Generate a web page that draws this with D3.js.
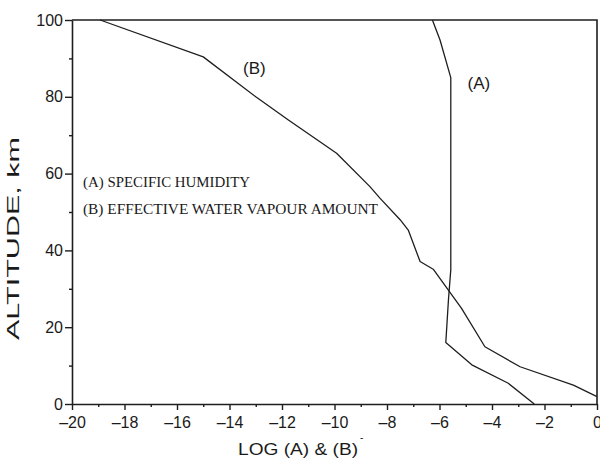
<!DOCTYPE html>
<html>
<head>
<meta charset="utf-8">
<script src="https://cdn.jsdelivr.net/npm/d3@7"></script>
<style>
  html, body { margin: 0; padding: 0; background: #fff; }
  svg { display: block; }
  text { fill: #1a1a1a; }
</style>
</head>
<body>
<svg id="chart" width="600" height="458"></svg>
<script>
// Data (x = log value, y = altitude km)
const seriesALog = [-6.27, -5.98, -5.57, -5.57, -5.66, -5.76, -4.77, -3.38, -2.39];
const seriesAAlt = [100, 94.8, 85, 35, 27, 16, 10.2, 5.4, 0];
const seriesBLog = [-18.93, -15.0, -13.0, -11.77, -9.92, -8.65, -8.27, -7.5, -7.19, -6.74, -6.24, -5.16, -4.27, -2.93, -0.9, 0];
const seriesBAlt = [100, 90.4, 80, 74, 65.3, 56.6, 53.6, 48, 45.3, 37.1, 35.1, 24.9, 14.9, 9.7, 4.9, 1.9];
const xTicks = [-20, -18, -16, -14, -12, -10, -8, -6, -4, -2, 0];
const xMinorTicks = [-19, -17, -15, -13, -11, -9, -7, -5, -3, -1];
const yTicks = [0, 20, 40, 60, 80, 100];
const yMinorTicks = [10, 30, 50, 70, 90];
const legendLines = ["(A) SPECIFIC HUMIDITY", "(B) EFFECTIVE WATER VAPOUR AMOUNT"];
const curveLabels = [{name: "(B)", x: -13.05, y: 87.5}, {name: "(A)", x: -4.5, y: 83.6}];

const svg = d3.select("#chart");
const L = 72, R = 597, T = 20, B = 404;
const x = d3.scaleLinear().domain([-20, 0]).range([L, R]);
const y = d3.scaleLinear().domain([0, 100]).range([B, T]);
const ink = "#1e1e1e";
const fmt = d => d < 0 ? "\u2013" + Math.abs(d) : String(d);

// Frame (top and right)
svg.append("path")
  .attr("d", `M${L},${T}H${R}V${B}`)
  .attr("fill", "none").attr("stroke", ink).attr("stroke-width", 1.6);

// X axis
svg.append("g").attr("transform", `translate(0,${B})`)
  .call(d3.axisBottom(x).tickValues(xTicks).tickFormat(fmt).tickSize(6).tickPadding(7).tickSizeOuter(0));
svg.append("g").attr("transform", `translate(0,${B})`)
  .call(d3.axisBottom(x).tickValues(xMinorTicks).tickFormat("").tickSize(3).tickSizeOuter(0))
  .call(g => g.select(".domain").remove());

// Y axis
svg.append("g").attr("transform", `translate(${L},0)`)
  .call(d3.axisLeft(y).tickValues(yTicks).tickFormat(fmt).tickSize(7).tickPadding(2).tickSizeOuter(0));
svg.append("g").attr("transform", `translate(${L},0)`)
  .call(d3.axisLeft(y).tickValues(yMinorTicks).tickFormat("").tickSize(3).tickSizeOuter(0))
  .call(g => g.select(".domain").remove());

svg.selectAll(".domain").attr("stroke", ink).attr("stroke-width", 1.6);
svg.selectAll(".tick line").attr("stroke", ink).attr("stroke-width", 1.4);
svg.selectAll(".tick text")
  .attr("fill", ink)
  .style("font-family", "'Liberation Sans', Arial, sans-serif")
  .style("font-size", "16px");

// Curves
const line = d3.line().x(d => x(d[0])).y(d => y(d[1]));
const dataA = seriesALog.map((v, i) => [v, seriesAAlt[i]]);
const dataB = seriesBLog.map((v, i) => [v, seriesBAlt[i]]);
[dataA, dataB].forEach(d => {
  svg.append("path").datum(d).attr("d", line)
    .attr("fill", "none").attr("stroke", ink).attr("stroke-width", 1.3)
    .attr("stroke-linejoin", "round");
});

// Curve labels
svg.selectAll(".clabel").data(curveLabels).enter().append("text")
  .attr("class", "clabel")
  .attr("x", d => x(d.x)).attr("y", d => y(d.y))
  .attr("text-anchor", "middle").attr("dy", "0.35em")
  .style("font-family", "'Liberation Sans', Arial, sans-serif")
  .style("font-size", "17px")
  .text(d => d.name);

// Legend text (serif)
const legendLen = [167, 295];
svg.selectAll(".legend").data(legendLines).enter().append("text")
  .attr("class", "legend")
  .attr("x", 83).attr("y", (d, i) => 187 + i * 26.5)
  .attr("textLength", (d, i) => legendLen[i])
  .attr("lengthAdjust", "spacingAndGlyphs")
  .style("font-family", "'Liberation Serif', 'Times New Roman', serif")
  .style("font-size", "15px")
  .text(d => d);

// Axis titles
svg.append("text")
  .attr("x", 238).attr("y", 455)
  .attr("textLength", 120).attr("lengthAdjust", "spacingAndGlyphs")
  .style("font-family", "'Liberation Sans', Arial, sans-serif")
  .style("font-size", "17px")
  .text("LOG (A) & (B)");
svg.append("text")
  .attr("x", 360).attr("y", 441)
  .style("font-family", "'Liberation Sans', Arial, sans-serif")
  .style("font-size", "10px")
  .text("-");

svg.append("text")
  .attr("transform", "translate(18.5,340) rotate(-90)")
  .attr("textLength", 203).attr("lengthAdjust", "spacingAndGlyphs")
  .style("font-family", "'Liberation Sans', Arial, sans-serif")
  .style("font-size", "16px")
  .text("ALTITUDE, km");
</script>
</body>
</html>
